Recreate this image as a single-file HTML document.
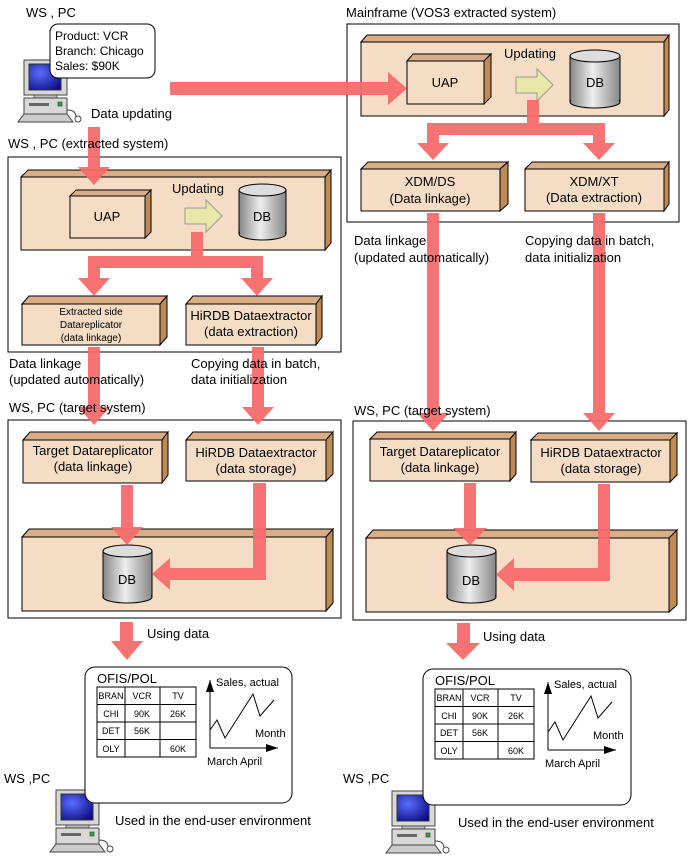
<!DOCTYPE html>
<html><head><meta charset="utf-8"><style>
html,body{margin:0;padding:0;background:#fff}
svg{display:block}
text{font-family:"Liberation Sans",sans-serif;font-size:13px;fill:#000}
</style></head><body>
<svg width="688" height="862" viewBox="0 0 688 862" xmlns="http://www.w3.org/2000/svg">
<defs>
<linearGradient id="cyl" x1="0" x2="1" y1="0" y2="0">
<stop offset="0" stop-color="#8a8a8a"/><stop offset="0.45" stop-color="#eeeeee"/><stop offset="1" stop-color="#8a8a8a"/>
</linearGradient>
<radialGradient id="scr" cx="0.35" cy="0.35" r="0.8">
<stop offset="0" stop-color="#5a6cff"/><stop offset="1" stop-color="#0a0a80"/>
</radialGradient>
<g id="pc">
<rect x="0" y="0" width="43" height="35" fill="#d8d8d8" stroke="#444" stroke-width="1"/>
<rect x="5" y="4" width="32" height="26" fill="url(#scr)" stroke="#333" stroke-width="1"/>
<rect x="10" y="35" width="23" height="3" fill="#bbb" stroke="#444" stroke-width="0.8"/>
<rect x="0" y="38" width="43" height="16" fill="#d8d8d8" stroke="#444" stroke-width="1"/>
<rect x="5" y="43" width="20" height="3" fill="#666"/>
<rect x="34" y="42" width="4" height="4" fill="#3a3" stroke="#333" stroke-width="0.6"/>
<polygon points="0,54 43,54 49,62 -6,62" fill="#ccc" stroke="#444" stroke-width="1"/>
<path d="M43,50 Q52,50 52,57" fill="none" stroke="#444"/>
<circle cx="54" cy="59" r="3" fill="#fff" stroke="#444"/>
</g>
<g id="tbl">
<rect x="0" y="0" width="99" height="70" fill="#fff" stroke="#000"/>
<line x1="0" y1="17.5" x2="99" y2="17.5" stroke="#000"/>
<line x1="0" y1="35" x2="99" y2="35" stroke="#000"/>
<line x1="0" y1="52.5" x2="99" y2="52.5" stroke="#000"/>
<line x1="28" y1="0" x2="28" y2="70" stroke="#000"/>
<line x1="63" y1="0" x2="63" y2="70" stroke="#000"/>
<g text-anchor="middle">
<text x="14" y="12" style="font-size:9px">BRAN</text><text x="45" y="12" style="font-size:9px">VCR</text><text x="81" y="12" style="font-size:9px">TV</text>
<text x="14" y="30" style="font-size:9px">CHI</text><text x="45" y="30" style="font-size:9px">90K</text><text x="81" y="30" style="font-size:9px">26K</text>
<text x="14" y="47" style="font-size:9px">DET</text><text x="45" y="47" style="font-size:9px">56K</text>
<text x="14" y="65" style="font-size:9px">OLY</text><text x="81" y="65" style="font-size:9px">60K</text>
</g>
</g>
<g id="chart">
<line x1="0" y1="0" x2="0" y2="68" stroke="#000"/>
<polygon points="-4,12 4,12 0,0" fill="#000"/>
<line x1="0" y1="68" x2="68" y2="68" stroke="#000"/>
<polygon points="56,64 56,72 68,68" fill="#000"/>
<polyline points="0,50 7,40 15,58 43,14 50,36 64,20" fill="none" stroke="#000"/>
</g>
</defs>

<!-- ===== Top-left WS,PC ===== -->
<text x="26" y="17">WS , PC</text>
<use href="#pc" x="24" y="60"/>
<rect x="50" y="24" width="105" height="54" rx="8" fill="#fff" stroke="#000"/>
<text x="55" y="40" style="font-size:12px">Product: VCR</text>
<text x="55" y="55" style="font-size:12px">Branch: Chicago</text>
<text x="55" y="70" style="font-size:12px">Sales:  $90K</text>
<text x="91" y="118">Data updating</text>

<!-- Left extracted container -->
<rect x="8" y="157" width="333" height="195" fill="#fff" stroke="#000"/>
<polygon points="21,177 28,170 331,170 325,177" fill="#d9ad85" stroke="#000"/>
<polygon points="325,177 331,170 331,243 325,250" fill="#c08a55" stroke="#000"/>
<rect x="21" y="177" width="304" height="73" fill="#f5dcc4" stroke="#000"/>
<polygon points="70,196 76,190 151,190 145,196" fill="#d9ad85" stroke="#000"/>
<polygon points="145,196 151,190 151,232 145,238" fill="#c08a55" stroke="#000"/>
<rect x="70" y="196" width="75" height="42" fill="#f5dcc4" stroke="#000"/>
<text x="107" y="221" text-anchor="middle">UAP</text>
<text x="172" y="193">Updating</text>
<polygon points="185,208 206,208 206,200 222,216 206,232 206,224 185,224" fill="#e8e8a8" stroke="#999"/>
<rect x="239" y="190" width="47" height="44" fill="url(#cyl)" stroke="#000"/>
<ellipse cx="262.5" cy="234" rx="23.5" ry="6" fill="url(#cyl)" stroke="#000"/>
<rect x="240" y="190" width="45" height="44" fill="url(#cyl)"/>
<ellipse cx="262.5" cy="190" rx="23.5" ry="6" fill="#ddd" stroke="#000"/>
<text x="262" y="221" text-anchor="middle">DB</text>
<polygon points="22,304 29,296 167,296 160,304" fill="#d9ad85" stroke="#000"/>
<polygon points="160,304 167,296 167,337 160,345" fill="#c08a55" stroke="#000"/>
<rect x="22" y="304" width="138" height="41" fill="#f5dcc4" stroke="#000"/>
<text x="91" y="315" text-anchor="middle" style="font-size:10px">Extracted side</text>
<text x="91" y="328" text-anchor="middle" style="font-size:10px">Datareplicator</text>
<text x="91" y="341" text-anchor="middle" style="font-size:10px">(data linkage)</text>
<polygon points="186,304 193,296 322,296 316,304" fill="#d9ad85" stroke="#000"/>
<polygon points="316,304 322,296 322,337 316,345" fill="#c08a55" stroke="#000"/>
<rect x="186" y="304" width="130" height="41" fill="#f5dcc4" stroke="#000"/>
<text x="251" y="320" text-anchor="middle">HiRDB Dataextractor</text>
<text x="251" y="336" text-anchor="middle">(data extraction)</text>

<!-- Left target container -->
<rect x="8" y="420" width="333" height="198" fill="#fff" stroke="#000"/>
<polygon points="23,440 30,432 168,432 162,440" fill="#d9ad85" stroke="#000"/>
<polygon points="162,440 168,432 168,475 162,483" fill="#c08a55" stroke="#000"/>
<rect x="23" y="440" width="139" height="43" fill="#f5dcc4" stroke="#000"/>
<text x="93" y="455" text-anchor="middle">Target Datareplicator</text>
<text x="93" y="471" text-anchor="middle">(data linkage)</text>
<polygon points="186,440 193,432 333,432 326,440" fill="#d9ad85" stroke="#000"/>
<polygon points="326,440 333,432 333,474 326,481" fill="#c08a55" stroke="#000"/>
<rect x="186" y="440" width="140" height="41" fill="#f5dcc4" stroke="#000"/>
<text x="256" y="457" text-anchor="middle">HiRDB Dataextractor</text>
<text x="256" y="473" text-anchor="middle">(data storage)</text>
<polygon points="22,537 29,529 333,529 326,537" fill="#d9ad85" stroke="#000"/>
<polygon points="326,537 333,529 333,603 326,611" fill="#c08a55" stroke="#000"/>
<rect x="22" y="537" width="304" height="74" fill="#f5dcc4" stroke="#000"/>
<rect x="103" y="551" width="49" height="46" fill="url(#cyl)" stroke="#000"/>
<ellipse cx="127.5" cy="597" rx="24.5" ry="6" fill="url(#cyl)" stroke="#000"/>
<rect x="104" y="551" width="47" height="46" fill="url(#cyl)"/>
<ellipse cx="127.5" cy="551" rx="24.5" ry="6" fill="#ddd" stroke="#000"/>
<text x="127" y="584" text-anchor="middle">DB</text>

<text x="147" y="638">Using data</text>

<!-- bottom-left OFIS -->
<text x="4" y="783">WS ,PC</text>
<use href="#pc" x="56" y="790"/>
<rect x="85" y="667" width="207" height="136" rx="10" fill="#fff" stroke="#000"/>
<text x="97" y="683">OFIS/POL</text>
<use href="#tbl" x="97" y="687"/>
<use href="#chart" x="210" y="680"/>
<text x="216" y="686" style="font-size:11px">Sales, actual</text>
<text x="255" y="737" style="font-size:11px">Month</text>
<text x="207" y="765" style="font-size:11px">March  April</text>
<text x="115" y="825">Used in the end-user environment</text>

<!-- ===== Mainframe ===== -->
<text x="346" y="17">Mainframe (VOS3 extracted system)</text>
<rect x="347" y="24" width="332" height="198" fill="#fff" stroke="#000"/>
<polygon points="361,42 367,35 669,35 664,42" fill="#d9ad85" stroke="#000"/>
<polygon points="664,42 669,35 669,110 664,116" fill="#c08a55" stroke="#000"/>
<rect x="361" y="42" width="303" height="74" fill="#f5dcc4" stroke="#000"/>
<polygon points="407,61 413,54 491,54 484,61" fill="#d9ad85" stroke="#000"/>
<polygon points="484,61 491,54 491,97 484,104" fill="#c08a55" stroke="#000"/>
<rect x="407" y="61" width="77" height="43" fill="#f5dcc4" stroke="#000"/>
<text x="445" y="87" text-anchor="middle">UAP</text>
<text x="504" y="58">Updating</text>
<polygon points="516,77 537,77 537,69 553,85 537,101 537,93 516,93" fill="#e8e8a8" stroke="#999"/>
<rect x="570" y="56" width="50" height="46" fill="url(#cyl)" stroke="#000"/>
<ellipse cx="595" cy="102" rx="25" ry="6" fill="url(#cyl)" stroke="#000"/>
<rect x="571" y="56" width="48" height="46" fill="url(#cyl)"/>
<ellipse cx="595" cy="56" rx="25" ry="6" fill="#ddd" stroke="#000"/>
<text x="595" y="87" text-anchor="middle">DB</text>
<polygon points="361,169 368,162 508,162 500,169" fill="#d9ad85" stroke="#000"/>
<polygon points="500,169 508,162 508,204 500,211" fill="#c08a55" stroke="#000"/>
<rect x="361" y="169" width="139" height="42" fill="#f5dcc4" stroke="#000"/>
<text x="430" y="186" text-anchor="middle">XDM/DS</text>
<text x="430" y="203" text-anchor="middle">(Data linkage)</text>
<polygon points="525,169 532,162 669,162 664,169" fill="#d9ad85" stroke="#000"/>
<polygon points="664,169 669,162 669,204 664,211" fill="#c08a55" stroke="#000"/>
<rect x="525" y="169" width="139" height="42" fill="#f5dcc4" stroke="#000"/>
<text x="594" y="186" text-anchor="middle">XDM/XT</text>
<text x="594" y="202" text-anchor="middle">(Data extraction)</text>

<!-- Right target -->
<rect x="353" y="421" width="333" height="199" fill="#fff" stroke="#000"/>
<polygon points="370,439 377,432 516,432 510,439" fill="#d9ad85" stroke="#000"/>
<polygon points="510,439 516,432 516,474 510,481" fill="#c08a55" stroke="#000"/>
<rect x="370" y="439" width="140" height="42" fill="#f5dcc4" stroke="#000"/>
<text x="440" y="456" text-anchor="middle">Target Datareplicator</text>
<text x="440" y="472" text-anchor="middle">(data linkage)</text>
<polygon points="531,440 538,433 677,433 670,440" fill="#d9ad85" stroke="#000"/>
<polygon points="670,440 677,433 677,475 670,482" fill="#c08a55" stroke="#000"/>
<rect x="531" y="440" width="139" height="42" fill="#f5dcc4" stroke="#000"/>
<text x="601" y="457" text-anchor="middle">HiRDB Dataextractor</text>
<text x="601" y="473" text-anchor="middle">(data storage)</text>
<polygon points="366,538 373,530 677,530 669,538" fill="#d9ad85" stroke="#000"/>
<polygon points="669,538 677,530 677,605 669,612" fill="#c08a55" stroke="#000"/>
<rect x="366" y="538" width="303" height="74" fill="#f5dcc4" stroke="#000"/>
<rect x="447" y="551" width="49" height="46" fill="url(#cyl)" stroke="#000"/>
<ellipse cx="471.5" cy="597" rx="24.5" ry="6" fill="url(#cyl)" stroke="#000"/>
<rect x="448" y="551" width="47" height="46" fill="url(#cyl)"/>
<ellipse cx="471.5" cy="551" rx="24.5" ry="6" fill="#ddd" stroke="#000"/>
<text x="471" y="585" text-anchor="middle">DB</text>

<text x="483" y="641">Using data</text>

<text x="343" y="783">WS ,PC</text>
<use href="#pc" x="392" y="791"/>
<rect x="423" y="669" width="208" height="136" rx="10" fill="#fff" stroke="#000"/>
<text x="435" y="685">OFIS/POL</text>
<use href="#tbl" x="435" y="689"/>
<use href="#chart" x="548" y="682"/>
<text x="554" y="688" style="font-size:11px">Sales, actual</text>
<text x="593" y="739" style="font-size:11px">Month</text>
<text x="545" y="767" style="font-size:11px">March  April</text>
<text x="458" y="827">Used in the end-user environment</text>

<!-- ===== Arrows ===== -->
<g fill="#f76b6b" fill-opacity="0.95">
<polygon points="88,127 100,127 100,167 110,167 94,185 78,167 88,167"/>
<polygon points="170,82 388,82 388,72 407,88.5 388,105 388,95 170,95"/>
<polygon points="191,232 203,232 203,256 263,256 263,278 273,278 257,296 241,278 251,278 251,268 100,268 100,278 110,278 94,296 78,278 88,278 88,256 191,256"/>
<polygon points="88,347 100,347 100,407 110,407 94,425 78,407 88,407"/>
<polygon points="252,347 264,347 264,407 274,407 258,425 242,407 252,407"/>
<polygon points="121,485 133,485 133,527 143,527 127,545 111,527 121,527"/>
<polygon points="253,483 266,483 266,580 170,580 170,590 152,574 170,558 170,568 253,568"/>
<polygon points="120,622 133,622 133,641 143,641 127,660 111,641 120,641"/>
<polygon points="527,100 539,100 539,123 605,123 605,143 615,143 599,160 583,143 593,143 593,135 439,135 439,143 449,143 433,160 417,143 427,143 427,123 527,123"/>
<polygon points="427,213 439,213 439,413 449,413 433,431 417,413 427,413"/>
<polygon points="593,213 605,213 605,413 615,413 599,431 583,413 593,413"/>
<polygon points="464,483 476,483 476,528 487,528 470,545 453,528 464,528"/>
<polygon points="598,484 610,484 610,581 514,581 514,591 496,574.5 514,558 514,568 598,568"/>
<polygon points="457,623 470,623 470,643 480,643 463,660 446,643 457,643"/>
</g>

<!-- labels drawn over arrows -->
<text x="8" y="148">WS , PC (extracted system)</text>
<text x="9" y="368">Data linkage</text>
<text x="9" y="384">(updated automatically)</text>
<text x="191" y="368">Copying data in batch,</text>
<text x="191" y="384">data initialization</text>
<text x="9" y="412">WS, PC (target system)</text>
<text x="354" y="245">Data linkage</text>
<text x="354" y="262">(updated automatically)</text>
<text x="525" y="245">Copying data in batch,</text>
<text x="525" y="262">data initialization</text>
<text x="354" y="415">WS, PC (target system)</text>
</svg>
</body></html>
